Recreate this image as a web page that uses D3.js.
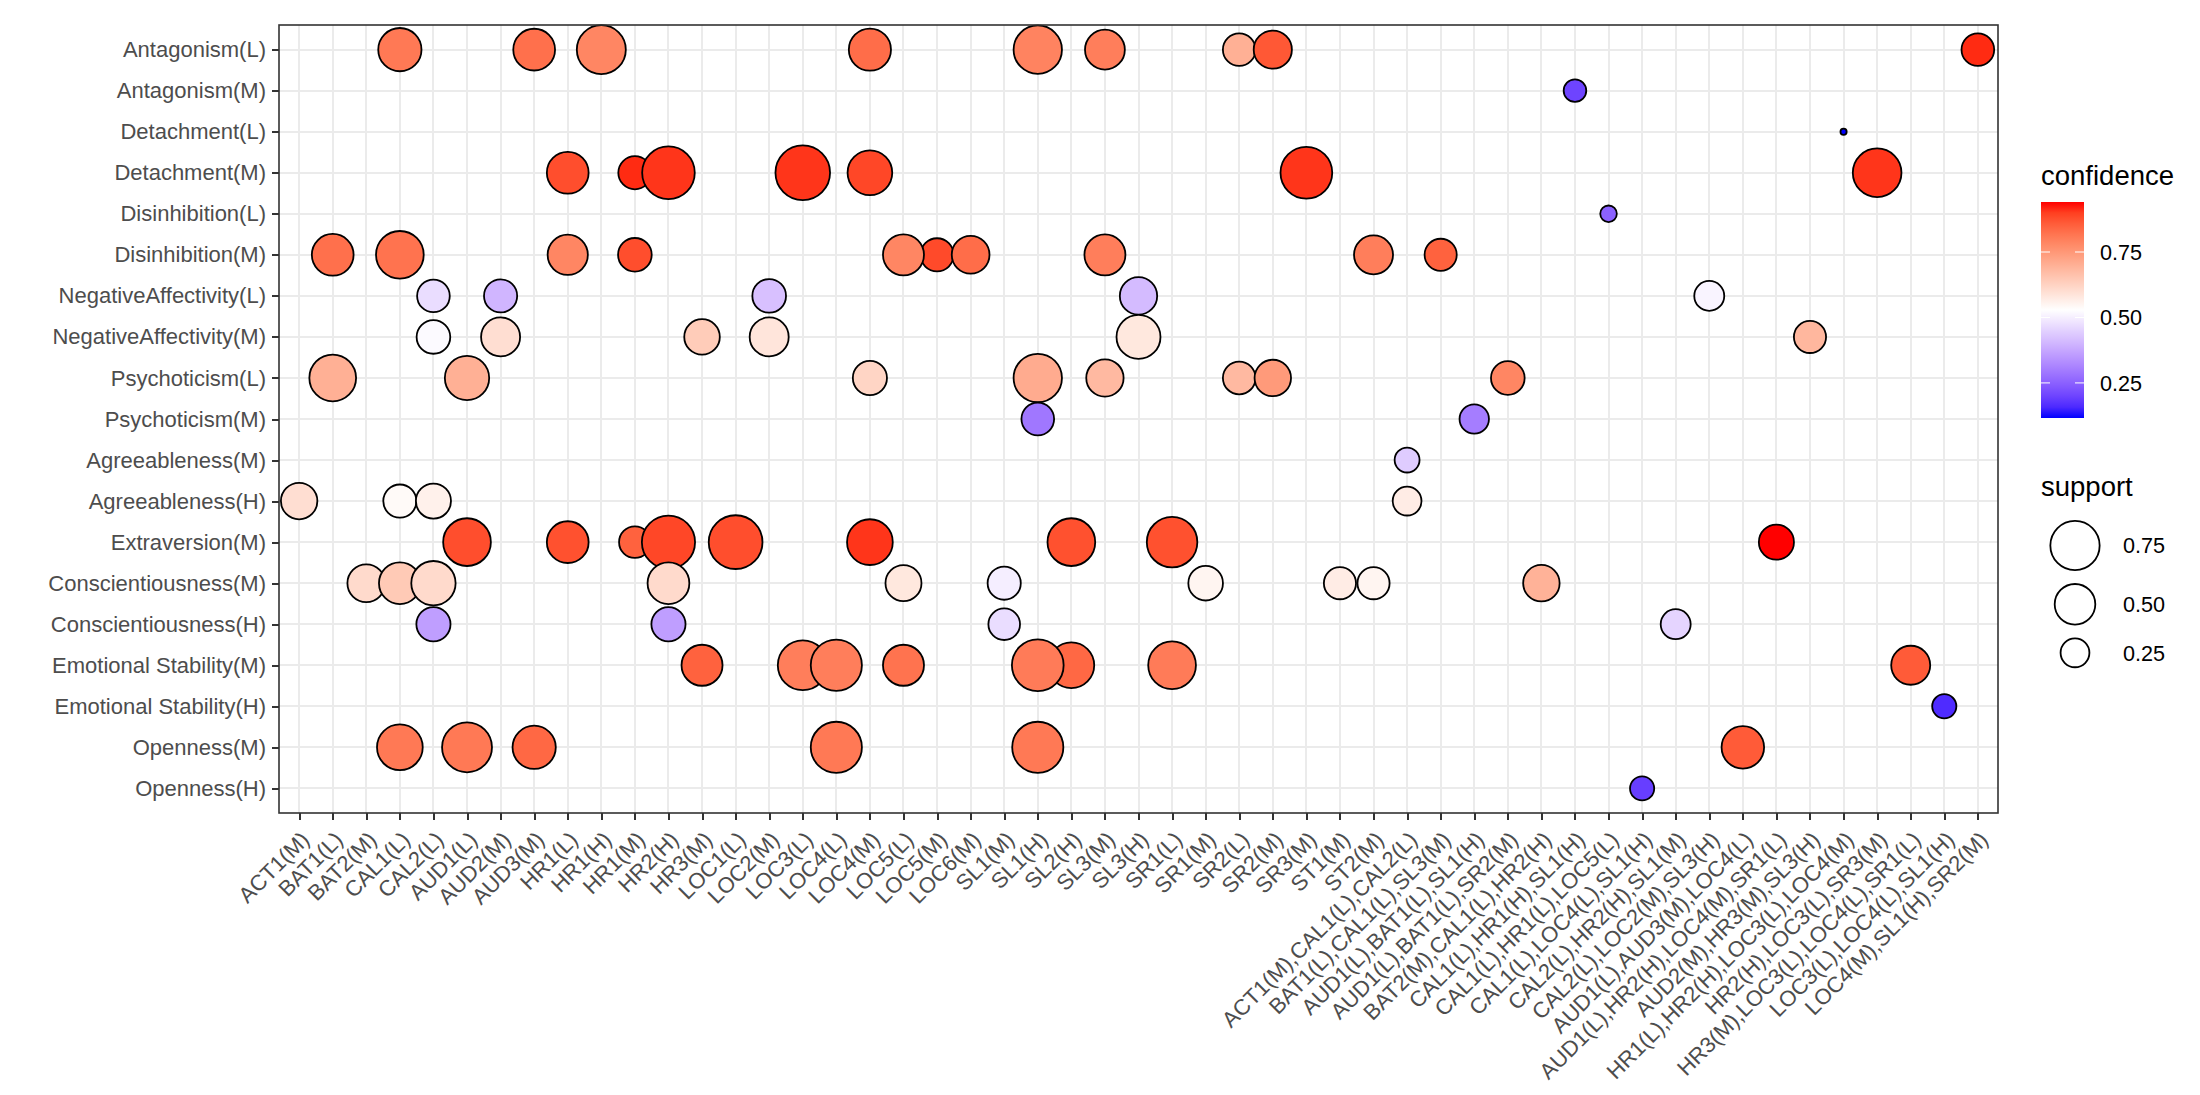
<!DOCTYPE html>
<head>
    <script src="https://cdn.jsdelivr.net/npm/d3@7/dist/d3.min.js"></script>
</head>
<body style="margin:0;background:#fff;">
    <style type="text/css">
        text {
            font-family: "Liberation Sans", Arial, sans-serif;
        }
        .axis text {
            fill: #4d4d4d;
        }
        .axis line {
            stroke: #333;
            stroke-width: 2;
            shape-rendering: crispEdges;
        }
        .grid line {
            stroke: #ebebeb;
            stroke-width: 2;
            shape-rendering: crispEdges;
        }
        .dot {
            stroke: #000;
            stroke-width: 1.8;
        }
    </style>
    <svg id="chart"></svg>
    <script>
        // antecedents (x) and consequents (y)
        var xCategories = ["ACT1(M)", "BAT1(L)", "BAT2(M)", "CAL1(L)", "CAL2(L)", "AUD1(L)", "AUD2(M)", "AUD3(M)",
            "HR1(L)", "HR1(H)", "HR1(M)", "HR2(H)", "HR3(M)", "LOC1(L)", "LOC2(M)", "LOC3(L)", "LOC4(L)", "LOC4(M)",
            "LOC5(L)", "LOC5(M)", "LOC6(M)", "SL1(M)", "SL1(H)", "SL2(H)", "SL3(M)", "SL3(H)", "SR1(L)", "SR1(M)",
            "SR2(L)", "SR2(M)", "SR3(M)", "ST1(M)", "ST2(M)",
            "ACT1(M),CAL1(L),CAL2(L)", "BAT1(L),CAL1(L),SL3(M)", "AUD1(L),BAT1(L),SL1(H)", "AUD1(L),BAT1(L),SR2(M)",
            "BAT2(M),CAL1(L),HR2(H)", "CAL1(L),HR1(H),SL1(H)", "CAL1(L),HR1(L),LOC5(L)", "CAL1(L),LOC4(L),SL1(H)",
            "CAL2(L),HR2(H),SL1(M)", "CAL2(L),LOC2(M),SL3(H)", "AUD1(L),AUD3(M),LOC4(L)",
            "AUD1(L),HR2(H),LOC4(M),SR1(L)", "AUD2(M),HR3(M),SL3(H)", "HR1(L),HR2(H),LOC3(L),LOC4(M)",
            "HR2(H),LOC3(L),SR3(M)", "HR3(M),LOC3(L),LOC4(L),SR1(L)", "LOC3(L),LOC4(L),SL1(H)",
            "LOC4(M),SL1(H),SR2(M)"
        ];

        var yCategories = ["Antagonism(L)", "Antagonism(M)", "Detachment(L)", "Detachment(M)", "Disinhibition(L)",
            "Disinhibition(M)", "NegativeAffectivity(L)", "NegativeAffectivity(M)", "Psychoticism(L)",
            "Psychoticism(M)", "Agreeableness(M)", "Agreeableness(H)", "Extraversion(M)", "Conscientiousness(M)",
            "Conscientiousness(H)", "Emotional Stability(M)", "Emotional Stability(H)", "Openness(M)", "Openness(H)"
        ];

        // one entry per rule
        var ruleRhs = [
            "Antagonism(L)", "Antagonism(L)", "Antagonism(L)", "Antagonism(L)", "Antagonism(L)", "Antagonism(L)",
            "Antagonism(L)", "Antagonism(L)", "Antagonism(L)",
            "Antagonism(M)",
            "Detachment(L)",
            "Detachment(M)", "Detachment(M)", "Detachment(M)", "Detachment(M)", "Detachment(M)", "Detachment(M)",
            "Detachment(M)",
            "Disinhibition(L)",
            "Disinhibition(M)", "Disinhibition(M)", "Disinhibition(M)", "Disinhibition(M)", "Disinhibition(M)",
            "Disinhibition(M)", "Disinhibition(M)", "Disinhibition(M)", "Disinhibition(M)", "Disinhibition(M)",
            "NegativeAffectivity(L)", "NegativeAffectivity(L)", "NegativeAffectivity(L)", "NegativeAffectivity(L)",
            "NegativeAffectivity(L)",
            "NegativeAffectivity(M)", "NegativeAffectivity(M)", "NegativeAffectivity(M)", "NegativeAffectivity(M)",
            "NegativeAffectivity(M)", "NegativeAffectivity(M)",
            "Psychoticism(L)", "Psychoticism(L)", "Psychoticism(L)", "Psychoticism(L)", "Psychoticism(L)",
            "Psychoticism(L)", "Psychoticism(L)", "Psychoticism(L)",
            "Psychoticism(M)", "Psychoticism(M)",
            "Agreeableness(M)",
            "Agreeableness(H)", "Agreeableness(H)", "Agreeableness(H)", "Agreeableness(H)",
            "Extraversion(M)", "Extraversion(M)", "Extraversion(M)", "Extraversion(M)", "Extraversion(M)",
            "Extraversion(M)", "Extraversion(M)", "Extraversion(M)", "Extraversion(M)",
            "Conscientiousness(M)", "Conscientiousness(M)", "Conscientiousness(M)", "Conscientiousness(M)",
            "Conscientiousness(M)", "Conscientiousness(M)", "Conscientiousness(M)", "Conscientiousness(M)",
            "Conscientiousness(M)", "Conscientiousness(M)",
            "Conscientiousness(H)", "Conscientiousness(H)", "Conscientiousness(H)", "Conscientiousness(H)",
            "Emotional Stability(M)", "Emotional Stability(M)", "Emotional Stability(M)", "Emotional Stability(M)",
            "Emotional Stability(M)", "Emotional Stability(M)", "Emotional Stability(M)", "Emotional Stability(M)",
            "Emotional Stability(H)",
            "Openness(M)", "Openness(M)", "Openness(M)", "Openness(M)", "Openness(M)", "Openness(M)",
            "Openness(H)"
        ];

        var ruleLhs = [
            "CAL1(L)", "AUD3(M)", "HR1(H)", "LOC4(M)", "SL1(H)", "SL3(M)", "SR2(L)", "SR2(M)", "LOC4(M),SL1(H),SR2(M)",
            "CAL1(L),HR1(H),SL1(H)",
            "HR1(L),HR2(H),LOC3(L),LOC4(M)",
            "HR1(L)", "HR1(M)", "HR2(H)", "LOC3(L)", "LOC4(M)", "SR3(M)", "HR2(H),LOC3(L),SR3(M)",
            "CAL1(L),HR1(L),LOC5(L)",
            "BAT1(L)", "CAL1(L)", "HR1(L)", "HR1(M)", "LOC5(M)", "LOC5(L)", "LOC6(M)", "SL3(M)", "ST2(M)",
            "BAT1(L),CAL1(L),SL3(M)",
            "CAL2(L)", "AUD2(M)", "LOC2(M)", "SL3(H)", "CAL2(L),LOC2(M),SL3(H)",
            "CAL2(L)", "AUD2(M)", "HR3(M)", "LOC2(M)", "SL3(H)", "AUD2(M),HR3(M),SL3(H)",
            "BAT1(L)", "AUD1(L)", "LOC4(M)", "SL1(H)", "SL3(M)", "SR2(L)", "SR2(M)", "AUD1(L),BAT1(L),SR2(M)",
            "SL1(H)", "AUD1(L),BAT1(L),SL1(H)",
            "ACT1(M),CAL1(L),CAL2(L)",
            "ACT1(M)", "CAL1(L)", "CAL2(L)", "ACT1(M),CAL1(L),CAL2(L)",
            "AUD1(L)", "HR1(L)", "HR1(M)", "HR2(H)", "LOC1(L)", "LOC4(M)", "SL2(H)", "SR1(L)",
            "AUD1(L),HR2(H),LOC4(M),SR1(L)",
            "BAT2(M)", "CAL1(L)", "CAL2(L)", "HR2(H)", "LOC5(L)", "SL1(M)", "SR1(M)", "ST1(M)", "ST2(M)",
            "BAT2(M),CAL1(L),HR2(H)",
            "CAL2(L)", "HR2(H)", "SL1(M)", "CAL2(L),HR2(H),SL1(M)",
            "HR3(M)", "LOC3(L)", "LOC4(L)", "LOC5(L)", "SL2(H)", "SL1(H)", "SR1(L)", "HR3(M),LOC3(L),LOC4(L),SR1(L)",
            "LOC3(L),LOC4(L),SL1(H)",
            "CAL1(L)", "AUD1(L)", "AUD3(M)", "LOC4(L)", "SL1(H)", "AUD1(L),AUD3(M),LOC4(L)",
            "CAL1(L),LOC4(L),SL1(H)"
        ];

        var ruleSupport = [
            0.57, 0.53, 0.74, 0.54, 0.72, 0.48, 0.32, 0.44, 0.32,
            0.16,
            0.06,
            0.53, 0.33, 0.86, 0.93, 0.61, 0.83, 0.73,
            0.10,
            0.53, 0.70, 0.49, 0.34, 0.33, 0.51, 0.43, 0.51, 0.46, 0.31,
            0.32, 0.33, 0.34, 0.42, 0.27,
            0.34, 0.46, 0.38, 0.46, 0.59, 0.31,
            0.67, 0.60, 0.35, 0.72, 0.42, 0.32, 0.40, 0.34,
            0.32, 0.26,
            0.19,
            0.40, 0.33, 0.37, 0.25,
            0.70, 0.53, 0.30, 0.88, 0.90, 0.64, 0.70, 0.79, 0.37,
            0.43, 0.53, 0.60, 0.53, 0.39, 0.33, 0.36, 0.31, 0.31, 0.40,
            0.35, 0.35, 0.30, 0.27,
            0.51, 0.77, 0.81, 0.51, 0.64, 0.83, 0.70, 0.46,
            0.18,
            0.64, 0.77, 0.57, 0.81, 0.81, 0.55,
            0.18
        ];

        var ruleConfidence = [
            0.81, 0.825, 0.785, 0.83, 0.79, 0.80, 0.70, 0.865, 0.92,
            0.20,
            0.116,
            0.88, 0.92, 0.91, 0.91, 0.89, 0.91, 0.91,
            0.25,
            0.825, 0.82, 0.785, 0.88, 0.885, 0.785, 0.83, 0.80, 0.80, 0.85,
            0.47, 0.40, 0.42, 0.41, 0.51,
            0.52, 0.60, 0.64, 0.585, 0.58, 0.685,
            0.70, 0.70, 0.62, 0.71, 0.68, 0.68, 0.745, 0.785,
            0.29, 0.30,
            0.44,
            0.60, 0.54, 0.56, 0.57,
            0.88, 0.875, 0.85, 0.89, 0.88, 0.91, 0.875, 0.875, 0.941,
            0.61, 0.645, 0.61, 0.61, 0.58, 0.50, 0.55, 0.57, 0.55, 0.695,
            0.36, 0.36, 0.47, 0.455,
            0.85, 0.80, 0.80, 0.82, 0.84, 0.805, 0.805, 0.86,
            0.16,
            0.81, 0.81, 0.84, 0.81, 0.81, 0.86,
            0.19
        ];

        var confidenceTicks = [0.25, 0.50, 0.75];
        var supportBreaks = [0.75, 0.50, 0.25];

        var rules = ruleRhs.map(function(r, i) {
            return {
                rhs: r,
                lhs: ruleLhs[i],
                support: ruleSupport[i],
                confidence: ruleConfidence[i]
            };
        });

        var margin = {
                top: 25,
                left: 279,
                bottom: 282,
                right: 202
            },
            width = 2200 - margin.left - margin.right,
            height = 1095 - margin.top - margin.bottom;

        var root = d3.select("#chart")
            .attr("width", 2200)
            .attr("height", 1095);

        root.append("rect")
            .attr("width", 2200)
            .attr("height", 1095)
            .attr("fill", "#fff");

        var svg = root.append("g")
            .attr("transform", "translate(" + margin.left + "," + margin.top + ")");

        var x = d3.scalePoint()
            .domain(xCategories)
            .range([0, width])
            .padding(0.6);

        var y = d3.scalePoint()
            .domain(yCategories)
            .range([0, height])
            .padding(0.6);

        // ggplot style area scale: radius grows with sqrt of rescaled support
        var sizeT = d3.scaleLinear()
            .domain(d3.extent(ruleSupport))
            .range([0, 1])
            .clamp(true);
        var rScale = d3.scaleLinear()
            .domain([0, 1])
            .range([4, 28.2]);

        function radius(s) {
            return rScale(Math.sqrt(sizeT(s)));
        }

        var cExt = d3.extent(ruleConfidence);
        var color = d3.scaleLinear()
            .domain([cExt[0], (cExt[0] + cExt[1]) / 2, cExt[1]])
            .range(["blue", "white", "red"])
            .interpolate(d3.interpolateLab);

        // grid
        var grid = svg.append("g").attr("class", "grid");
        grid.selectAll(".gx")
            .data(xCategories)
            .enter()
            .append("line")
            .attr("x1", d => x(d))
            .attr("x2", d => x(d))
            .attr("y1", 0)
            .attr("y2", height);
        grid.selectAll(".gy")
            .data(yCategories)
            .enter()
            .append("line")
            .attr("x1", 0)
            .attr("x2", width)
            .attr("y1", d => y(d))
            .attr("y2", d => y(d));

        // points
        svg.selectAll(".dot")
            .data(rules)
            .enter()
            .append("circle")
            .attr("class", "dot")
            .attr("cx", d => x(d.lhs))
            .attr("cy", d => y(d.rhs))
            .attr("r", d => radius(d.support) - 0.9)
            .attr("fill", d => color(d.confidence));

        // panel border
        svg.append("rect")
            .attr("width", width)
            .attr("height", height)
            .attr("fill", "none")
            .attr("stroke", "#333")
            .attr("stroke-width", 1.6);

        var xAxis = d3.axisBottom(x)
            .tickSize(7)
            .tickSizeOuter(0);

        var gx = svg.append("g")
            .attr("class", "axis")
            .attr("transform", "translate(0," + height + ")")
            .call(xAxis);
        gx.select(".domain").remove();
        gx.selectAll("text")
            .attr("y", 0)
            .attr("dy", "0.71em")
            .style("font-size", "22px")
            .style("text-anchor", "end")
            .attr("transform", "translate(0,17) rotate(-45)");

        var yAxis = d3.axisLeft(y)
            .tickSize(7)
            .tickPadding(6)
            .tickSizeOuter(0);

        var gy = svg.append("g")
            .attr("class", "axis")
            .call(yAxis);
        gy.select(".domain").remove();
        gy.selectAll("text")
            .style("font-size", "22px");

        // legend: confidence colour bar
        var leg = root.append("g");

        leg.append("text")
            .attr("x", 2041)
            .attr("y", 185)
            .style("font-size", "27.5px")
            .text("confidence");

        var barY = d3.scaleLinear()
            .domain(cExt)
            .range([418, 202]);

        var grad = root.append("defs")
            .append("linearGradient")
            .attr("id", "confGrad")
            .attr("x1", 0).attr("y1", 1)
            .attr("x2", 0).attr("y2", 0);
        d3.range(0, 1.0001, 0.05).forEach(function(t) {
            grad.append("stop")
                .attr("offset", t)
                .attr("stop-color", color(cExt[0] + t * (cExt[1] - cExt[0])));
        });

        leg.append("rect")
            .attr("x", 2041)
            .attr("y", barY(cExt[1]))
            .attr("width", 43)
            .attr("height", barY(cExt[0]) - barY(cExt[1]))
            .attr("fill", "url(#confGrad)");

        confidenceTicks.forEach(function(v) {
            leg.append("line")
                .attr("x1", 2041).attr("x2", 2050)
                .attr("y1", barY(v)).attr("y2", barY(v))
                .attr("stroke", "#fff").attr("stroke-width", 1);
            leg.append("line")
                .attr("x1", 2075).attr("x2", 2084)
                .attr("y1", barY(v)).attr("y2", barY(v))
                .attr("stroke", "#fff").attr("stroke-width", 1);
            leg.append("text")
                .attr("x", 2100)
                .attr("y", barY(v))
                .attr("dy", "0.36em")
                .style("font-size", "21.6px")
                .text(d3.format(".2f")(v));
        });

        // legend: support sizes
        leg.append("text")
            .attr("x", 2041)
            .attr("y", 496)
            .style("font-size", "27.5px")
            .text("support");

        var keyY = 514;
        supportBreaks.forEach(function(v) {
            var r = radius(v);
            var h = 2 * r + 12;
            var cy = keyY + h / 2;
            leg.append("circle")
                .attr("cx", 2075)
                .attr("cy", cy)
                .attr("r", r - 0.9)
                .attr("fill", "none")
                .attr("stroke", "#000")
                .attr("stroke-width", 1.8);
            leg.append("text")
                .attr("x", 2123)
                .attr("y", cy)
                .attr("dy", "0.36em")
                .style("font-size", "21.6px")
                .text(d3.format(".2f")(v));
            keyY += h;
        });
    </script>
</body>
</html>
